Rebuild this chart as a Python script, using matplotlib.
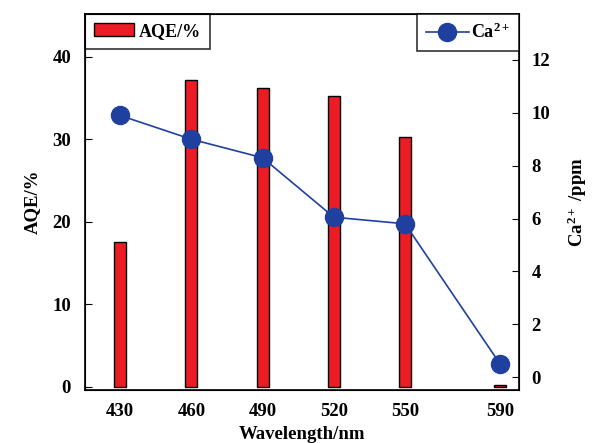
import matplotlib.pyplot as plt
import numpy as np

plt.rcParams['font.family'] = ['Liberation Serif', 'DejaVu Serif']
plt.rcParams['font.weight'] = 'bold'
plt.rcParams['mathtext.fontset'] = 'custom'
plt.rcParams['mathtext.rm'] = 'Liberation Serif:bold'
plt.rcParams['mathtext.bf'] = 'Liberation Serif:bold'
plt.rcParams['mathtext.it'] = 'Liberation Serif:bold'

wavelength = [430, 460, 490, 520, 550, 590]
aqe = [17.5, 37.2, 36.2, 35.3, 30.3, 0.2]
ca = [9.9, 9.0, 8.3, 6.05, 5.8, 0.5]

fig = plt.figure(figsize=(5.93, 4.43), dpi=100)
ax = fig.add_axes([0.1433, 0.1196, 0.7319, 0.8488])
ax.bar(wavelength, aqe, width=5, color='#ec1c24', edgecolor='black', linewidth=1.0, label='AQE/%')
ax.set_xlim(415.2, 598)
ax.set_ylim(-0.4, 45.2)
ax.set_xticks(wavelength)
ax.set_yticks([0, 10, 20, 30, 40])
ax.tick_params(axis='y', direction='in', length=5, labelsize=13.5, pad=10)
ax.tick_params(axis='x', length=0, labelsize=13.5, pad=9)
ax.set_xlabel('Wavelength/nm', fontsize=13.5, fontweight='bold', labelpad=5)
ax.set_ylabel('AQE/%', fontsize=13.5, fontweight='bold', labelpad=8)
for s in ax.spines.values():
    s.set_linewidth(1.2)

ax2 = ax.twinx()
ax2.plot(wavelength, ca, color='#2040a0', marker='o', markersize=13, linewidth=1.2, label='Ca$^{2+}$')
ax2.set_ylim(-0.49, 13.74)
ax2.set_yticks([0, 2, 4, 6, 8, 10, 12])
ax2.tick_params(axis='y', direction='in', length=5, labelsize=13.5, pad=9)
ax2.set_ylabel('Ca$^{2+}$ /ppm', fontsize=13.5, fontweight='bold', labelpad=11)

leg1 = ax.legend(loc='upper left', borderaxespad=0, fancybox=False, edgecolor='black',
                 fontsize=13, handlelength=2.2, handleheight=0.7, borderpad=0.5,
                 handletextpad=0.3)
leg1.get_frame().set_linewidth(1.2)
leg2 = ax2.legend(loc='upper right', borderaxespad=0, fancybox=False, edgecolor='black',
                  fontsize=13, handlelength=2.4, borderpad=0.5, handletextpad=0.1)
leg2.get_frame().set_linewidth(1.2)

fig.savefig('out.png', dpi=100)
